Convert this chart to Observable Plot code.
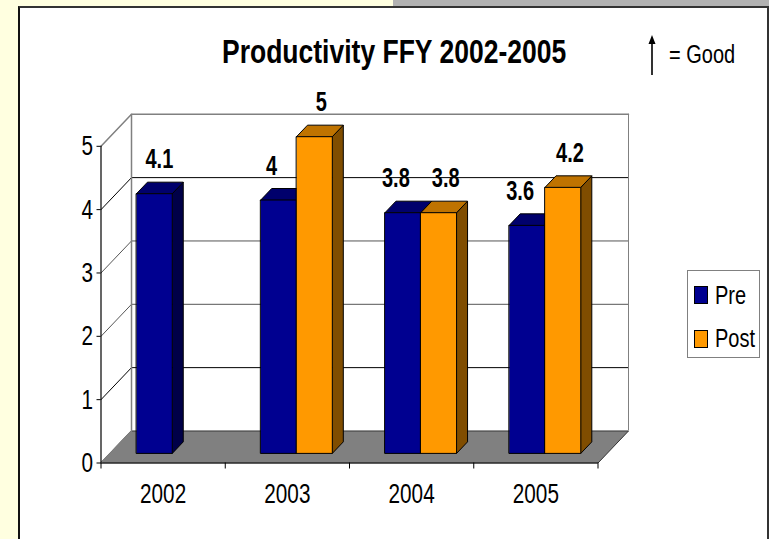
<!DOCTYPE html>
<html><head><meta charset="utf-8">
<script src="https://cdn.jsdelivr.net/npm/d3@7"></script>
<script src="https://cdn.jsdelivr.net/npm/@observablehq/plot@0.6"></script>
<style>
html,body{margin:0;padding:0;background:#FFFFE0;width:769px;height:539px;overflow:hidden;font-family:"Liberation Sans",Arial,sans-serif;color:#000}
.abs{position:absolute}
.sq{white-space:nowrap;transform-origin:0 50%;line-height:1}
#chart{position:absolute;left:0;top:0}
</style></head><body>
<div class="abs" style="left:393px;top:0;width:376px;height:6px;background:#B2B2B2"></div>
<div class="abs" style="left:18px;top:6px;right:0;height:540px;background:#fff;border-top:2px solid #333;border-left:2px solid #111;border-right:2px solid #333;box-sizing:border-box"></div>
<div id="chart"></div>
<div class="abs sq" style="left:222px;top:35px;font-size:33px;font-weight:bold;transform:scaleX(.803)">Productivity FFY 2002-2005</div>
<svg class="abs" style="left:646px;top:33px" width="12" height="44"><path d="M6 2L9.5 11H6.8V42H5.2V11H2.5Z" fill="#000"/></svg>
<div class="abs sq" style="left:669px;top:42px;font-size:25px;transform:scaleX(.8)">= Good</div>
<div class="abs" style="left:687px;top:270px;width:71px;height:86px;background:#fff;border:1.5px solid #808080"></div>
<div class="abs" style="left:694px;top:286px;width:12px;height:16px;background:#000090;border:1px solid #000"></div>
<div class="abs" style="left:694px;top:330px;width:12px;height:16px;background:#FF9900;border:1px solid #000"></div>
<div class="abs sq" style="left:715px;top:283px;font-size:25px;transform:scaleX(.8)">Pre</div>
<div class="abs sq" style="left:715px;top:326px;font-size:25px;transform:scaleX(.8)">Post</div>
<script>
const years = ["2002", "2003", "2004", "2005"];
const pre = [4.1, 4, 3.8, 3.6];
const post = [null, 5, 3.8, 4.2];
const yTicks = [0, 1, 2, 3, 4, 5];
const faceKeys = ["preFront","preTop","preSide","postFront","postTop","postSide"];
const faceColors = ["#000090","#00006C","#000048","#FF9900","#BF7300","#804D00"];

// px per unit of the chart box, so that the oblique depth can be written in data units
const unitX = 124.25, unitY = 63.3;
const depthX = 30.5 / unitX, depthY = 32 / unitY;      // depth of the whole floor
const barWidth = 35.8 / unitX;
const gapFrac = 0.3, barFrac = 0.36;                   // bar depth share of the floor
const barStart = (1 - 2 * barWidth) / 2;

function prism(i, slot, v, key) {
  const x0 = i + barStart + gapFrac * depthX + slot * barWidth;
  const x1 = x0 + barWidth;
  const y0 = gapFrac * depthY;
  const y1 = y0 + v;
  const dx = barFrac * depthX, dy = barFrac * depthY;
  return [
    {id:`${key}${i}s`, f:`${key}Side`, p:[[x1,y0],[x1+dx,y0+dy],[x1+dx,y1+dy],[x1,y1]]},
    {id:`${key}${i}t`, f:`${key}Top`, p:[[x0,y1],[x0+dx,y1+dy],[x1+dx,y1+dy],[x1,y1]]},
    {id:`${key}${i}f`, f:`${key}Front`, p:[[x0,y0],[x1,y0],[x1,y1],[x0,y1]]}
  ];
}
const faces = [];
years.forEach((_, i) => {
  faces.push(...prism(i, 0, pre[i], "pre"));
  if (post[i] != null) faces.push(...prism(i, 1, post[i], "post"));
});
const faceRows = faces.flatMap(f => f.p.map(([x,y]) => ({id:f.id, f:f.f, x, y})));

const floor = [[0,0],[4,0],[4+depthX,depthY],[depthX,depthY]].map(([x,y]) => ({x,y}));
const wallTicks = yTicks.slice(1);
const wallLines = wallTicks.flatMap(v => [
  {id:v, x:0, y:v},{id:v, x:depthX, y:v+depthY},{id:v, x:4+depthX, y:v+depthY}
]);

// value labels sit above the bar top, leaning away from the neighbouring bar
const labels = [];
years.forEach((_, i) => {
  const both = post[i] != null;
  const c = i + barStart + gapFrac * depthX;
  labels.push({x:c + barWidth/2 + (both ? -7 : 5)/unitX, y:gapFrac*depthY + pre[i], t:String(pre[i])});
  if (both) labels.push({x:c + 1.5*barWidth + 7/unitX, y:gapFrac*depthY + post[i], t:String(post[i])});
});

const plot = Plot.plot({
  width:769, height:539,
  marginLeft:100.5, marginRight:171.5, marginTop:145.8, marginBottom:76.5,
  x:{domain:[0,4], axis:null},
  y:{domain:[0,5], axis:null},
  color:{domain:faceKeys, range:faceColors},
  style:{background:"transparent", fontFamily:'"Liberation Sans",Arial,sans-serif', overflow:"visible"},
  marks:[
    Plot.line(floor, {x:"x", y:"y", fill:"#808080", stroke:"#333", strokeWidth:1, curve:"linear-closed"}),
    Plot.line(wallLines.filter(d => d.id !== 5), {x:"x", y:"y", z:"id", stroke:d => d.id === 2 || d.id === 3 ? "#555" : "#000", strokeWidth:1}),
    Plot.line(wallLines.filter(d => d.id === 5), {x:"x", y:"y", z:"id", stroke:"#808080", strokeWidth:1.5}),
    Plot.ruleX([depthX], {y1:depthY, y2:5+depthY, stroke:"#808080", strokeWidth:1.5}),
    Plot.ruleX([4+depthX], {y1:depthY, y2:5+depthY, stroke:"#808080", strokeWidth:1}),
    Plot.line([{x:0,y:0},{x:depthX,y:depthY}], {x:"x", y:"y", stroke:"#808080"}),
    Plot.line(faceRows, {x:"x", y:"y", z:"id", fill:"f", stroke:"#000", strokeWidth:1, curve:"linear-closed"}),
    Plot.ruleX([0], {y1:0, y2:5, stroke:"#000", strokeWidth:1.2}),
    Plot.ruleY([0], {x1:0, x2:4, stroke:"#222", strokeWidth:1.2}),
    Plot.axisY({ticks:yTicks, tickSize:4, tickPadding:4, fontSize:28, label:null, tickFormat:d => d}),
    Plot.axisX({ticks:[0,1,2,3,4], tickSize:6, label:null, tickFormat:() => ""}),
    Plot.axisX({ticks:[0.5,1.5,2.5,3.5], tickSize:0, tickPadding:20, fontSize:28, label:null, tickFormat:d => years[d - 0.5]}),
    Plot.text(labels, {x:"x", y:"y", text:"t", dy:-34, fontSize:27, fontWeight:"bold", fill:"#000"})
  ]
});
document.getElementById("chart").append(plot);
plot.querySelectorAll("text").forEach(t => {
  const len = t.getComputedTextLength();
  if (len > 0) { t.setAttribute("textLength", len * 0.74); t.setAttribute("lengthAdjust", "spacingAndGlyphs"); }
});
</script>
</body></html>
